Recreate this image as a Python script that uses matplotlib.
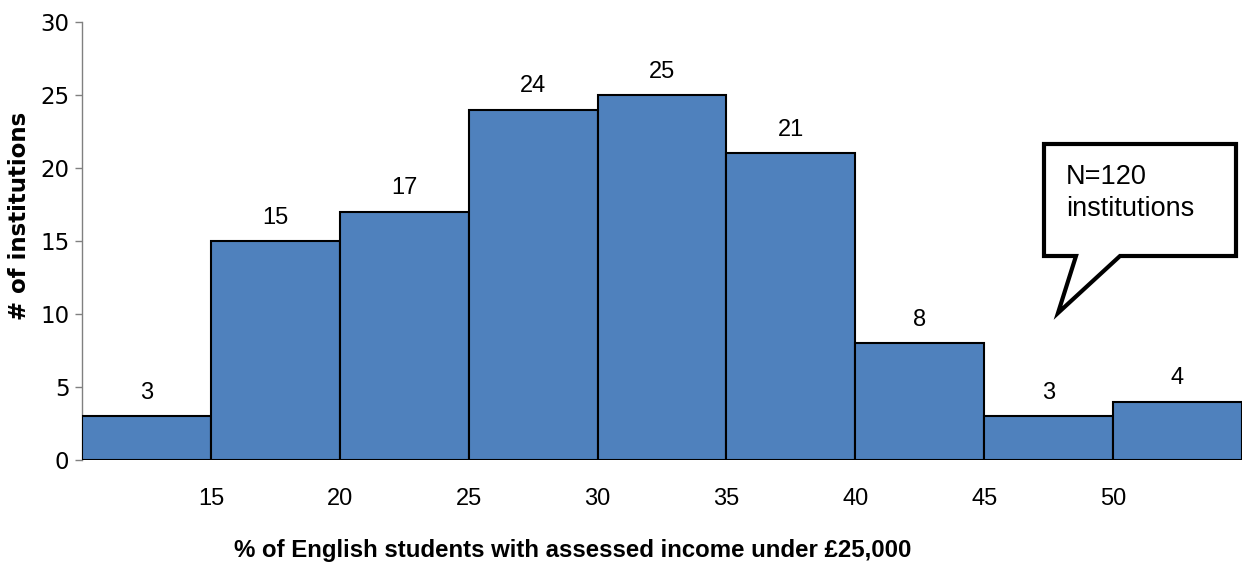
import matplotlib.pyplot as plt
from matplotlib.patches import Polygon

# histogram data
bin_edges = [10, 15, 20, 25, 30, 35, 40, 45, 50, 55]
counts = [3, 15, 17, 24, 25, 21, 8, 3, 4]
xticks = [15, 20, 25, 30, 35, 40, 45, 50]
yticks = [0, 5, 10, 15, 20, 25, 30]

W, H = 1245, 565
fig = plt.figure(figsize=(W / 100, H / 100), dpi=100)
ax = fig.add_axes([82 / W, 1 - 460 / H, (1242 - 82) / W, (460 - 22) / H])

lefts = bin_edges[:-1]
widths = [b - a for a, b in zip(bin_edges[:-1], bin_edges[1:])]
ax.bar(lefts, counts, width=widths, align='edge', color='#4F81BD',
       edgecolor='black', linewidth=1.5, zorder=3)

for x, w, c in zip(lefts, widths, counts):
    ax.annotate(str(c), (x + w / 2, c), xytext=(0, 9), textcoords='offset points',
                ha='center', va='bottom', fontsize=17, family='Liberation Sans')

ax.set_xlim(bin_edges[0], bin_edges[-1])
ax.set_ylim(0, 30)
ax.set_xticks(xticks)
ax.set_xticklabels([str(t) for t in xticks], fontsize=17, family='Liberation Sans')
ax.tick_params(axis='x', length=0, pad=20)
ax.set_yticks(yticks)
ax.set_yticklabels([str(t) for t in yticks], fontsize=16.5, family='DejaVu Sans')
ax.tick_params(axis='y', length=5, color='#808080', width=1, pad=4)

for s in ['top', 'right', 'bottom']:
    ax.spines[s].set_visible(False)
ax.spines['left'].set_color('#808080')
ax.spines['left'].set_linewidth(1)

# axis titles
fig.text(20 / W, 1 - 216 / H, '# of institutions', rotation=90, ha='center', va='center',
         fontsize=16.5, fontweight='bold', family='DejaVu Sans')
fig.text(573 / W, 1 - 551 / H, '% of English students with assessed income under £25,000',
         ha='center', va='center', fontsize=17.3, fontweight='bold', family='Liberation Sans')

# speech bubble callout (figure pixel coordinates)
pts = [(1044, 144), (1236, 144), (1236, 256), (1120, 256), (1058, 313), (1076, 256), (1044, 256)]
bubble = Polygon([(x / W, 1 - y / H) for x, y in pts], closed=True, transform=fig.transFigure,
                 facecolor='white', edgecolor='black', linewidth=3, joinstyle='miter', zorder=5)
fig.patches.append(bubble)
fig.text(1066 / W, 1 - 193 / H, 'N=120\ninstitutions', ha='left', va='center',
         fontsize=19.5, family='Liberation Sans', linespacing=1.25, zorder=6)

fig.savefig('out.png', dpi=100)
